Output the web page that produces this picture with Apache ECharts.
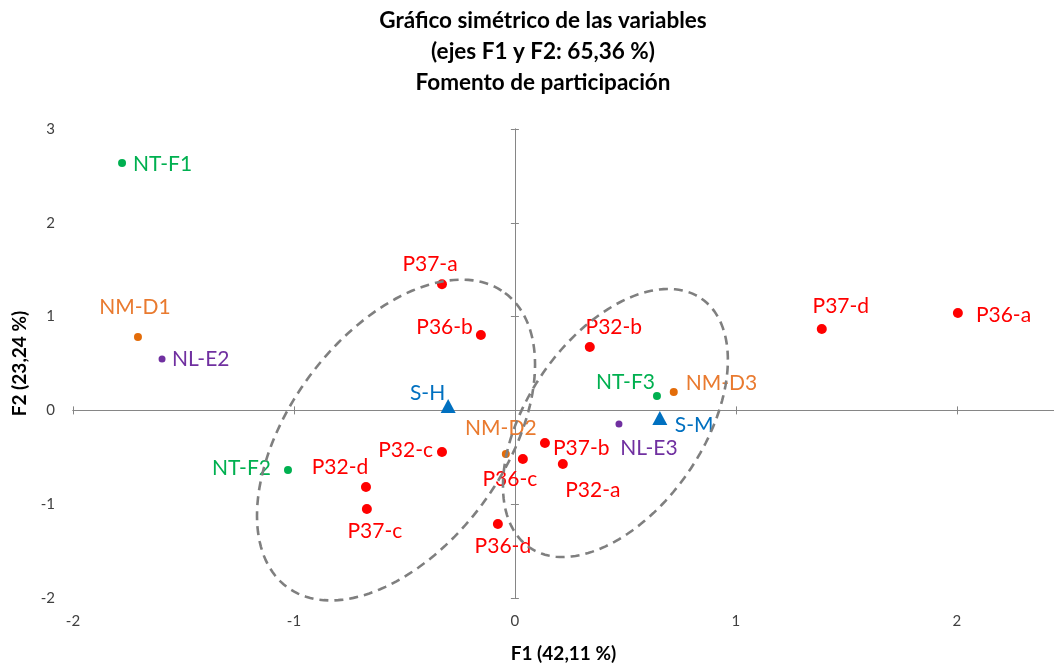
<!DOCTYPE html>
<html><head><meta charset="utf-8">
<script src="https://cdn.jsdelivr.net/npm/echarts@6/dist/echarts.min.js"></script>
<style>html,body{margin:0;padding:0;background:#fff}#c{width:1054px;height:663px}</style>
</head><body><div id="c"></div>
<script>
// ---------- text ----------
const titleLines = ['Gráfico simétrico de las variables', '(ejes F1 y F2: 65,36 %)', 'Fomento de participación'];
const xAxisName = 'F1 (42,11 %)';
const yAxisName = 'F2 (23,24 %)';

// ---------- axis ranges ----------
const xMin = -2, xMax = 2.44, yMin = -2, yMax = 3, tickStep = 1;

// ---------- data (F1, F2 coordinates) ----------
const pNames = ['P32-a', 'P32-b', 'P32-c', 'P32-d', 'P36-a', 'P36-b', 'P36-c', 'P36-d', 'P37-a', 'P37-b', 'P37-c', 'P37-d'];
const pF1 = [0.217, 0.339, -0.330, -0.674, 2.005, -0.154, 0.036, -0.077, -0.330, 0.136, -0.670, 1.389];
const pF2 = [-0.571, 0.676, -0.443, -0.817, 1.038, 0.804, -0.518, -1.211, 1.344, -0.348, -1.051, 0.868];

const nmNames = ['NM-D1', 'NM-D2', 'NM-D3'];
const nmF1 = [-1.706, -0.041, 0.719];
const nmF2 = [0.783, -0.465, 0.196];

const nlNames = ['NL-E2', 'NL-E3'];
const nlF1 = [-1.597, 0.471];
const nlF2 = [0.548, -0.145];

const ntNames = ['NT-F1', 'NT-F2', 'NT-F3'];
const ntF1 = [-1.778, -1.027, 0.643];
const ntF2 = [2.638, -0.635, 0.154];

const sNames = ['S-H', 'S-M'];
const sF1 = [-0.302, 0.656];
const sF2 = [0.047, -0.081];

// confidence ellipses: centre and two conjugate semi-axis vectors (data units)
const ellipseNames = ['S-H', 'S-M'];
const ellipseCenterF1 = [-0.538, 0.455];
const ellipseCenterF2 = [-0.316, -0.134];
const ellipseAxisAF1 = [0.493, 0.390];
const ellipseAxisAF2 = [1.568, 1.325];
const ellipseAxisBF1 = [0.391, 0.327];
const ellipseAxisBF2 = [-0.682, -0.535];

// ---------- label placement (pixels: align, dx, dy) ----------
const labelLayout = {
  'NT-F1': ['left', 11, 1], 'NM-D1': ['center', -3, -30], 'NL-E2': ['left', 10, 0],
  'P37-a': ['center', -12, -20], 'P36-b': ['right', -8, -8], 'P32-b': ['center', 24, -20],
  'P37-d': ['center', 19, -23], 'P36-a': ['left', 18, 2], 'NT-F3': ['right', -2, -14],
  'NM-D3': ['left', 12, -9], 'S-H': ['right', -3, -13], 'S-M': ['left', 15, 7],
  'NL-E3': ['center', 30, 24], 'NM-D2': ['center', -5, -26], 'P37-b': ['left', 8, 5],
  'P36-c': ['center', -13, 20], 'P32-a': ['center', 30, 26], 'P32-c': ['right', -9, -2],
  'P32-d': ['center', -26, -20], 'P37-c': ['center', 8, 22], 'P36-d': ['center', 5, 22],
  'NT-F2': ['right', -17, -2]
};

const FONT = 'Lato';
function pointsOf(names, xs, ys, color) {
  return names.map((n, i) => {
    const [align, dx, dy] = labelLayout[n];
    return {
      name: n, value: [xs[i], ys[i]],
      label: { show: true, position: 'inside', align: align, verticalAlign: 'middle', offset: [dx, dy],
        formatter: n, color: color, fontSize: 21, fontFamily: FONT }
    };
  });
}
function scatter(name, data, color, symbol, size) {
  return { name: name, type: 'scatter', xAxisIndex: 0, yAxisIndex: 0, symbol: symbol, symbolSize: size,
    itemStyle: { color: color, opacity: 1 }, data: data, z: 4, emphasis: { disabled: true } };
}

const axisLineStyle = { color: '#868686', width: 1 };
const intFmt = v => (Number.isInteger(v) ? String(v) : '');
function zeroAxis(pos, min, max) {
  return { type: 'value', min: min, max: max, interval: tickStep, position: pos,
    axisLine: { show: true, onZero: true, lineStyle: axisLineStyle },
    axisTick: { show: true, inside: false, length: 4, lineStyle: axisLineStyle },
    axisLabel: { show: false }, splitLine: { show: false } };
}
const nameStyle = { fontFamily: FONT, fontWeight: 'bold', fontSize: 19, color: '#000' };

const ellipseData = ellipseNames.map((n, i) => [ellipseCenterF1[i], ellipseCenterF2[i],
  ellipseAxisAF1[i], ellipseAxisAF2[i], ellipseAxisBF1[i], ellipseAxisBF2[i]]);

const option = {
  animation: false,
  backgroundColor: '#fff',
  title: {
    text: titleLines.join('\n'), left: 538, top: 0, textAlign: 'center',
    textStyle: { fontFamily: FONT, fontWeight: 'bold', fontSize: 22.5, lineHeight: 31, color: '#000' }
  },
  grid: { left: 73, right: 0, top: 129, bottom: 65, containLabel: false, outerBoundsMode: 'none' },
  xAxis: [
    zeroAxis('bottom', xMin, xMax),
    zeroAxis('top', xMin, xMax),
    { type: 'value', min: xMin, max: xMax, interval: tickStep, position: 'bottom',
      axisLine: { show: false, onZero: false }, axisTick: { show: false }, splitLine: { show: false },
      axisLabel: { show: true, margin: 16, color: '#404040', fontSize: 15, fontFamily: FONT, formatter: intFmt },
      name: xAxisName, nameLocation: 'middle', nameGap: 46, nameTextStyle: nameStyle }
  ],
  yAxis: [
    zeroAxis('left', yMin, yMax),
    zeroAxis('right', yMin, yMax),
    { type: 'value', min: yMin, max: yMax, interval: tickStep, position: 'left',
      axisLine: { show: false, onZero: false }, axisTick: { show: false }, splitLine: { show: false },
      axisLabel: { show: true, margin: 18, color: '#404040', fontSize: 15, fontFamily: FONT, formatter: intFmt },
      name: yAxisName, nameLocation: 'middle', nameGap: 40, nameRotate: 90, nameTextStyle: nameStyle }
  ],
  series: [
    {
      type: 'custom', name: 'ellipses', xAxisIndex: 0, yAxisIndex: 0, z: 5, silent: true,
      encode: { x: 0, y: 1 },
      data: ellipseData,
      renderItem: function (params, api) {
        const cx = api.value(0), cy = api.value(1), ax = api.value(2), ay = api.value(3), bx = api.value(4), by = api.value(5);
        const pts = [];
        const N = 160;
        for (let k = 0; k <= N; k++) {
          const t = k / N * 2 * Math.PI;
          pts.push(api.coord([cx + ax * Math.cos(t) + bx * Math.sin(t), cy + ay * Math.cos(t) + by * Math.sin(t)]));
        }
        return { type: 'polyline', shape: { points: pts },
          style: { stroke: '#7f7f7f', lineWidth: 2.6, lineDash: [9, 6], fill: null } };
      }
    },
    scatter('P', pointsOf(pNames, pF1, pF2, '#ff0000'), '#ff0000', 'circle', 10),
    scatter('NM', pointsOf(nmNames, nmF1, nmF2, '#e97a2f'), '#e36c09', 'circle', 8),
    scatter('NL', pointsOf(nlNames, nlF1, nlF2, '#7030a0'), '#7030a0', 'circle', 7),
    scatter('NT', pointsOf(ntNames, ntF1, ntF2, '#00b050'), '#00b050', 'circle', 8),
    scatter('S', pointsOf(sNames, sF1, sF2, '#0070c0'), '#0070c0', 'triangle', [15, 14])
  ]
};
const chart = echarts.init(document.getElementById('c'), null, { renderer: 'canvas' });
chart.setOption(option);
</script>
</body></html>
